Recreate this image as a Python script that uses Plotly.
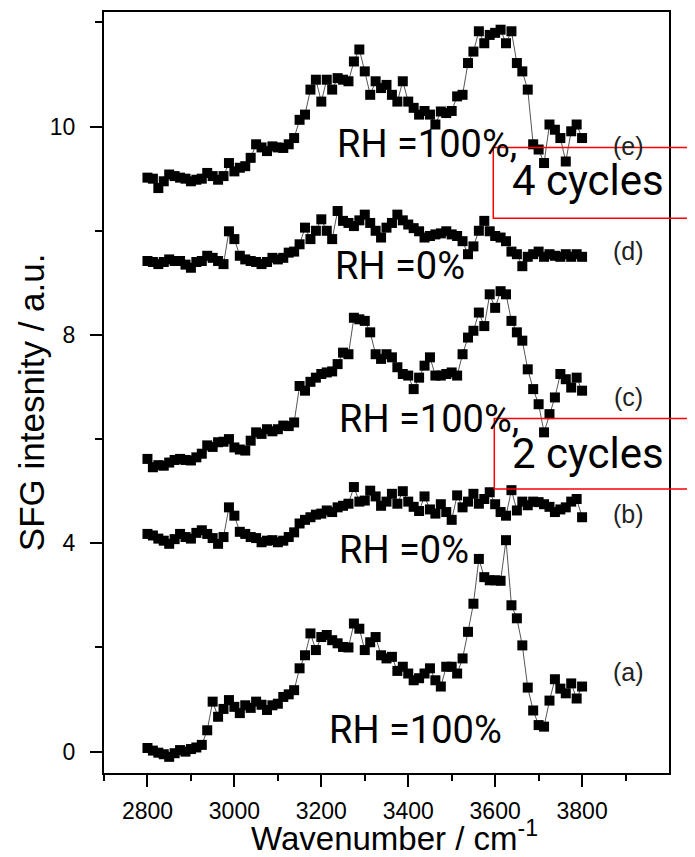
import plotly.graph_objects as go

# ---------------- data ----------------
wavenumber = [2800, 2812.5, 2825, 2837.5, 2850, 2862.5, 2875, 2887.5, 2900, 2912.5,
              2925, 2937.5, 2950, 2962.5, 2975, 2987.5, 3000, 3012.5, 3025, 3037.5,
              3050, 3062.5, 3075, 3087.5, 3100, 3112.5, 3125, 3137.5, 3150, 3162.5,
              3175, 3187.5, 3200, 3212.5, 3225, 3237.5, 3250, 3262.5, 3275, 3287.5,
              3300, 3312.5, 3325, 3337.5, 3350, 3362.5, 3375, 3387.5, 3400, 3412.5,
              3425, 3437.5, 3450, 3462.5, 3475, 3487.5, 3500, 3512.5, 3525, 3537.5,
              3550, 3562.5, 3575, 3587.5, 3600, 3612.5, 3625, 3637.5, 3650, 3662.5,
              3675, 3687.5, 3700, 3712.5, 3725, 3737.5, 3750, 3762.5, 3775, 3787.5,
              3800]

series_a = [0.07, 0.02, -0.02, -0.05, -0.10, -0.03, 0.03, 0.00, 0.05, 0.08,
            0.13, 0.41, 0.96, 0.67, 0.82, 0.99, 0.86, 0.74, 0.89, 0.84,
            0.96, 0.90, 0.80, 0.89, 0.92, 1.05, 1.10, 1.18, 1.60, 1.85,
            2.27, 1.95, 2.20, 2.24, 2.14, 2.08, 2.01, 2.00, 2.46, 2.36,
            1.95, 2.10, 2.20, 1.85, 1.79, 1.82, 1.55, 1.63, 1.50, 1.37,
            1.41, 1.50, 1.60, 1.37, 1.25, 1.63, 1.63, 1.50, 1.79, 2.30,
            2.84, 3.70, 3.35, 3.29, 3.29, 3.28, 4.06, 2.81, 2.56, 2.04,
            1.23, 0.79, 0.51, 0.48, 0.98, 1.39, 1.21, 1.12, 1.31, 1.02,
            1.25]

series_b = [4.18, 4.15, 4.09, 4.05, 3.99, 4.08, 4.18, 4.12, 4.09, 4.20,
            4.25, 4.18, 4.10, 3.99, 4.12, 4.69, 4.53, 4.22, 4.18, 4.12,
            4.10, 4.02, 4.05, 4.06, 4.02, 4.05, 4.12, 4.21, 4.38, 4.45,
            4.50, 4.55, 4.57, 4.63, 4.60, 4.69, 4.72, 4.76, 5.08, 4.80,
            4.82, 5.01, 4.90, 4.72, 4.80, 4.95, 4.76, 5.00, 4.80, 4.70,
            4.62, 4.90, 4.65, 4.57, 4.75, 4.60, 4.45, 4.92, 4.69, 4.80,
            4.95, 4.76, 4.85, 4.98, 4.75, 4.60, 4.53, 5.02, 4.63, 4.80,
            4.73, 4.80, 4.79, 4.75, 4.70, 4.60, 4.65, 4.69, 4.80, 4.85,
            4.50]

series_c = [5.62, 5.46, 5.50, 5.49, 5.55, 5.60, 5.62, 5.60, 5.59, 5.65,
            5.72, 5.88, 5.85, 5.94, 5.95, 6.00, 5.84, 5.80, 5.78, 5.97,
            6.13, 6.10, 6.19, 6.15, 6.19, 6.26, 6.25, 6.32, 7.02, 6.93,
            7.10, 7.18, 7.25, 7.28, 7.30, 7.44, 7.66, 7.63, 8.33, 8.30,
            8.27, 8.05, 7.63, 7.54, 7.63, 7.57, 7.38, 7.25, 7.22, 6.96,
            7.18, 7.41, 7.57, 7.22, 7.22, 7.25, 7.28, 7.22, 7.63, 7.95,
            8.08, 8.43, 8.17, 8.78, 8.52, 8.84, 8.78, 8.27, 8.05, 7.89,
            7.34, 6.96, 6.67, 6.13, 6.48, 6.80, 7.25, 7.15, 6.99, 7.18,
            6.93]

series_d = [9.42, 9.40, 9.36, 9.40, 9.45, 9.42, 9.42, 9.35, 9.29, 9.40,
            9.42, 9.52, 9.48, 9.42, 9.36, 9.99, 9.84, 9.52, 9.45, 9.42,
            9.40, 9.36, 9.40, 9.48, 9.45, 9.48, 9.58, 9.60, 9.74, 10.06,
            9.84, 10.00, 10.22, 10.00, 9.84, 10.38, 10.19, 10.15, 10.09, 10.20,
            10.31, 10.15, 10.00, 9.87, 10.06, 10.15, 10.31, 10.20, 10.12, 10.05,
            9.99, 9.87, 9.90, 9.93, 9.95, 9.99, 9.93, 9.90, 9.80, 9.55,
            9.70, 10.00, 10.19, 9.99, 9.90, 9.87, 9.80, 9.60, 9.55, 9.32,
            9.50, 9.55, 9.60, 9.50, 9.55, 9.52, 9.50, 9.55, 9.50, 9.55,
            9.50]

series_e = [11.02, 11.00, 10.82, 10.95, 11.08, 11.05, 11.02, 11.00, 10.95, 10.98,
            11.00, 11.11, 11.05, 10.98, 11.05, 11.30, 11.14, 11.21, 11.24, 11.40,
            11.66, 11.60, 11.53, 11.62, 11.60, 11.59, 11.66, 11.78, 12.13, 12.23,
            12.71, 12.90, 12.48, 12.90, 12.71, 12.93, 12.90, 12.87, 13.25, 13.48,
            13.06, 12.61, 12.87, 12.74, 12.80, 12.61, 12.48, 12.87, 12.48, 12.36,
            12.23, 12.30, 12.23, 12.04, 12.29, 12.26, 12.30, 12.58, 12.61, 13.22,
            13.44, 13.83, 13.60, 13.76, 13.80, 13.86, 13.60, 13.83, 13.22, 13.06,
            12.71, 11.66, 11.56, 11.30, 12.04, 11.94, 11.78, 11.33, 11.91, 12.04,
            11.78]

y_tick_vals = [0, 4, 8, 12]
y_tick_text = ["0", "4", "8", "10"]
y_minor_vals = [2, 6, 10, 14]
x_tick_vals = [2800, 3000, 3200, 3400, 3600, 3800]
x_minor_vals = [2700, 2900, 3100, 3300, 3500, 3700, 3900]

curve_labels = ["(a)", "(b)", "(c)", "(d)", "(e)"]
curve_label_y = [1.53, 4.57, 6.81, 9.61, 11.62]
rh_texts = ["RH =100%", "RH =0%", "RH =100%,", "RH =0%", "RH =100%,"]
rh_x = [3212, 3235, 3235, 3228, 3232]
rh_y = [0.41, 3.88, 6.38, 9.33, 11.66]
cycle_texts = ["2 cycles", "4 cycles"]
cycle_y = [5.72, 10.97]

all_series = [series_a, series_b, series_c, series_d, series_e]
for s in all_series:
    if len(s) != len(wavenumber):
        print("length mismatch", len(s))

fig = go.Figure()
for s in all_series:
    n = min(len(s), len(wavenumber))
    fig.add_trace(go.Scatter(
        x=wavenumber[:n], y=s[:n], mode="lines+markers",
        line=dict(color="#555555", width=1),
        marker=dict(symbol="square", size=10, color="black",
                    line=dict(width=0)),
        showlegend=False, hoverinfo="skip"))

tick_font = dict(family="Liberation Sans, Arial, sans-serif", size=23, color="black")
title_font = dict(family="Liberation Sans, Arial, sans-serif", size=35, color="black")
ann_font = dict(family="Roboto, sans-serif", size=38, color="black")

annotations = []
for lab, yy in zip(curve_labels, curve_label_y):
    annotations.append(dict(x=3907, y=yy, xref="x", yref="y", text=lab,
                            showarrow=False, xanchor="center", yanchor="middle",
                            font=dict(family="Liberation Sans, Arial, sans-serif",
                                      size=25, color="#222222")))
for t, xx, yy in zip(rh_texts, rh_x, rh_y):
    annotations.append(dict(x=xx, y=yy, xref="x", yref="y", text=t,
                            showarrow=False, xanchor="left", yanchor="middle",
                            font=ann_font))
for t, yy in zip(cycle_texts, cycle_y):
    annotations.append(dict(x=3634, y=yy, xref="x", yref="y", text=t,
                            showarrow=False, xanchor="left", yanchor="middle",
                            font=dict(family="Roboto, sans-serif", size=42, color="black")))
annotations.append(dict(x=-0.129, y=0.4875, xref="paper", yref="paper",
                        text="SFG intesnity / a.u.", textangle=-90,
                        showarrow=False, xanchor="center", yanchor="middle",
                        font=title_font))
annotations.append(dict(x=0.515, y=-0.0826, xref="paper", yref="paper",
                        text="Wavenumber / cm<sup>-1</sup>",
                        showarrow=False, xanchor="center", yanchor="middle",
                        font=dict(family="Liberation Sans, Arial, sans-serif", size=33, color="black")))

shapes = [
    dict(type="rect", xref="paper", yref="paper", x0=0.689, x1=1.1, y0=0.729, y1=0.8218,
         line=dict(color="#ff0000", width=1.5), fillcolor="rgba(0,0,0,0)", layer="above"),
    dict(type="rect", xref="paper", yref="paper", x0=0.6908, x1=1.1, y0=0.3731, y1=0.4657,
         line=dict(color="#ff0000", width=1.5), fillcolor="rgba(0,0,0,0)", layer="above"),
]

# the page adds an 8 px body margin, so the figure is 8 px smaller than the window
fig.update_layout(
    width=687, height=849,
    margin=dict(l=96, r=26, t=2, b=84),
    plot_bgcolor="white", paper_bgcolor="white",
    showlegend=False,
    annotations=annotations,
    shapes=shapes,
)

fig.update_xaxes(
    range=[2700, 4000], tickmode="array", tickvals=x_tick_vals,
    ticks="outside", ticklen=12, tickwidth=2, tickcolor="black",
    showline=True, linewidth=2, linecolor="black", mirror=True,
    showgrid=False, zeroline=False, tickfont=tick_font,
    ticklabelstandoff=4,
    minor=dict(tickmode="array", tickvals=x_minor_vals, ticks="outside",
               ticklen=6, tickwidth=2, tickcolor="black", showgrid=False),
)
fig.update_yaxes(
    range=[-0.41, 14.20], tickmode="array", tickvals=y_tick_vals, ticktext=y_tick_text,
    ticks="outside", ticklen=12, tickwidth=2, tickcolor="black",
    showline=True, linewidth=2, linecolor="black", mirror=True,
    showgrid=False, zeroline=False, tickfont=tick_font,
    ticklabelstandoff=10,
    minor=dict(tickmode="array", tickvals=y_minor_vals, ticks="outside",
               ticklen=7, tickwidth=2, tickcolor="black", showgrid=False),
)

fig.write_html("out.html")
